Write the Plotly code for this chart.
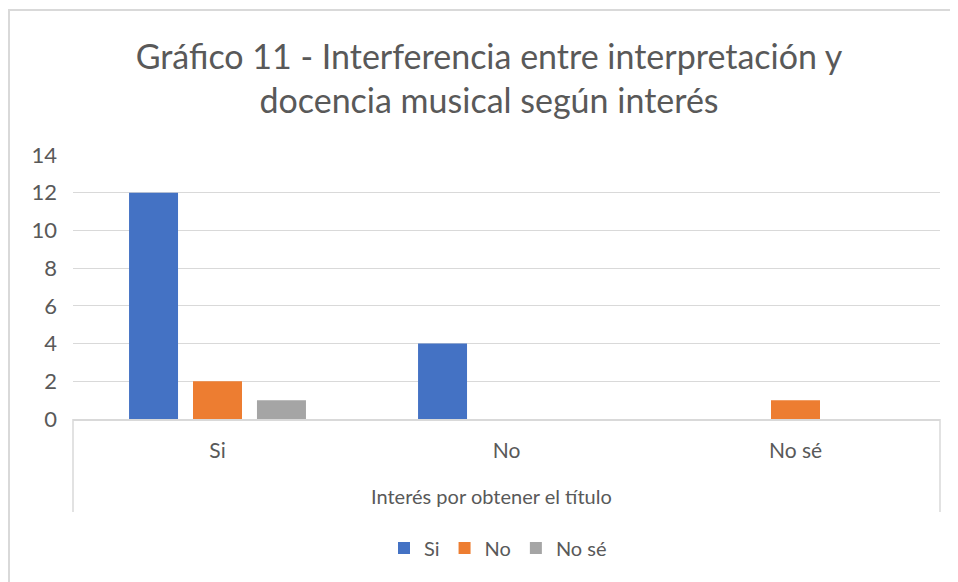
import plotly.graph_objects as go

categories = ["Si", "No", "No sé"]
series_names = ["Si", "No", "No sé"]
si_vals = [12, 4, 0]
no_vals = [2, 0, 1]
nose_vals = [1, 0, 0]
colors = ["#4472C4", "#ED7D31", "#A5A5A5"]
y_ticks = [0, 2, 4, 6, 8, 10, 12, 14]

FONT = "Lato, Calibri, sans-serif"
GREY = "#595959"
LINE = "#D9D9D9"

fig = go.Figure()
for name, vals, col in zip(series_names, [si_vals, no_vals, nose_vals], colors):
    fig.add_trace(go.Bar(x=categories, y=vals, name=name, marker_color=col,
                         marker_line_width=0))

# page is drawn with an 8px body margin, so work in page px and subtract it
O = 8
L, R, T, B = 73 - O, 940 - O, 155 - O, 419 - O
W, H = 958 - O, 582 - O
pw, ph = R - L, B - T

def px_y(py):
    return (B - (py - O)) / ph

def px_x(px):
    return ((px - O) - L) / pw

fig.update_layout(
    width=W, height=H,
    margin=dict(l=L, r=W - R, t=T, b=H - B),
    paper_bgcolor="white", plot_bgcolor="white",
    font=dict(family=FONT, color=GREY, size=20),
    barmode="group", bargap=0.336, bargroupgap=0.234,
    title=dict(text="Gráfico 11 - Interferencia entre interpretación y<br>docencia musical según interés",
               x=(489 - O) / W, xanchor="center", y=1 - (69 - O) / H, yanchor="middle",
               font=dict(size=34, color=GREY, family=FONT)),
    showlegend=True,
    legend=dict(orientation="h", x=px_x(498), xanchor="center", y=px_y(548), yanchor="middle",
                font=dict(size=20, color=GREY), itemwidth=30, traceorder="normal"),
    xaxis=dict(showline=True, linecolor=LINE, linewidth=1.5, ticks="",
               ticklabelstandoff=12, tickfont=dict(size=21, color=GREY)),
    yaxis=dict(range=[0, 14], tickvals=y_ticks, showgrid=True, gridcolor=LINE,
               gridwidth=1, zeroline=False, ticks="", tickfont=dict(size=22, color=GREY),
               ticklabelstandoff=15),
)

# axis title sits a bit left of the plot centre in the original
fig.add_annotation(text="Interés por obtener el título", xref="paper", yref="paper",
                   x=px_x(491), y=px_y(496), xanchor="center", yanchor="middle",
                   showarrow=False, font=dict(size=20, color=GREY))

# category box lines below the axis
for xv in (0, 1):
    fig.add_shape(type="line", xref="x domain", yref="y domain", x0=xv, x1=xv,
                  y0=0, y1=px_y(512), line=dict(color=LINE, width=1.5))

# chart border (left and top edges visible)
fig.add_shape(type="line", xref="paper", yref="paper", x0=px_x(9), x1=px_x(9),
              y0=px_y(10), y1=px_y(600), line=dict(color=LINE, width=2))
fig.add_shape(type="line", xref="paper", yref="paper", x0=px_x(8), x1=px_x(980),
              y0=px_y(10), y1=px_y(10), line=dict(color=LINE, width=2))

fig.write_html("out.html")
